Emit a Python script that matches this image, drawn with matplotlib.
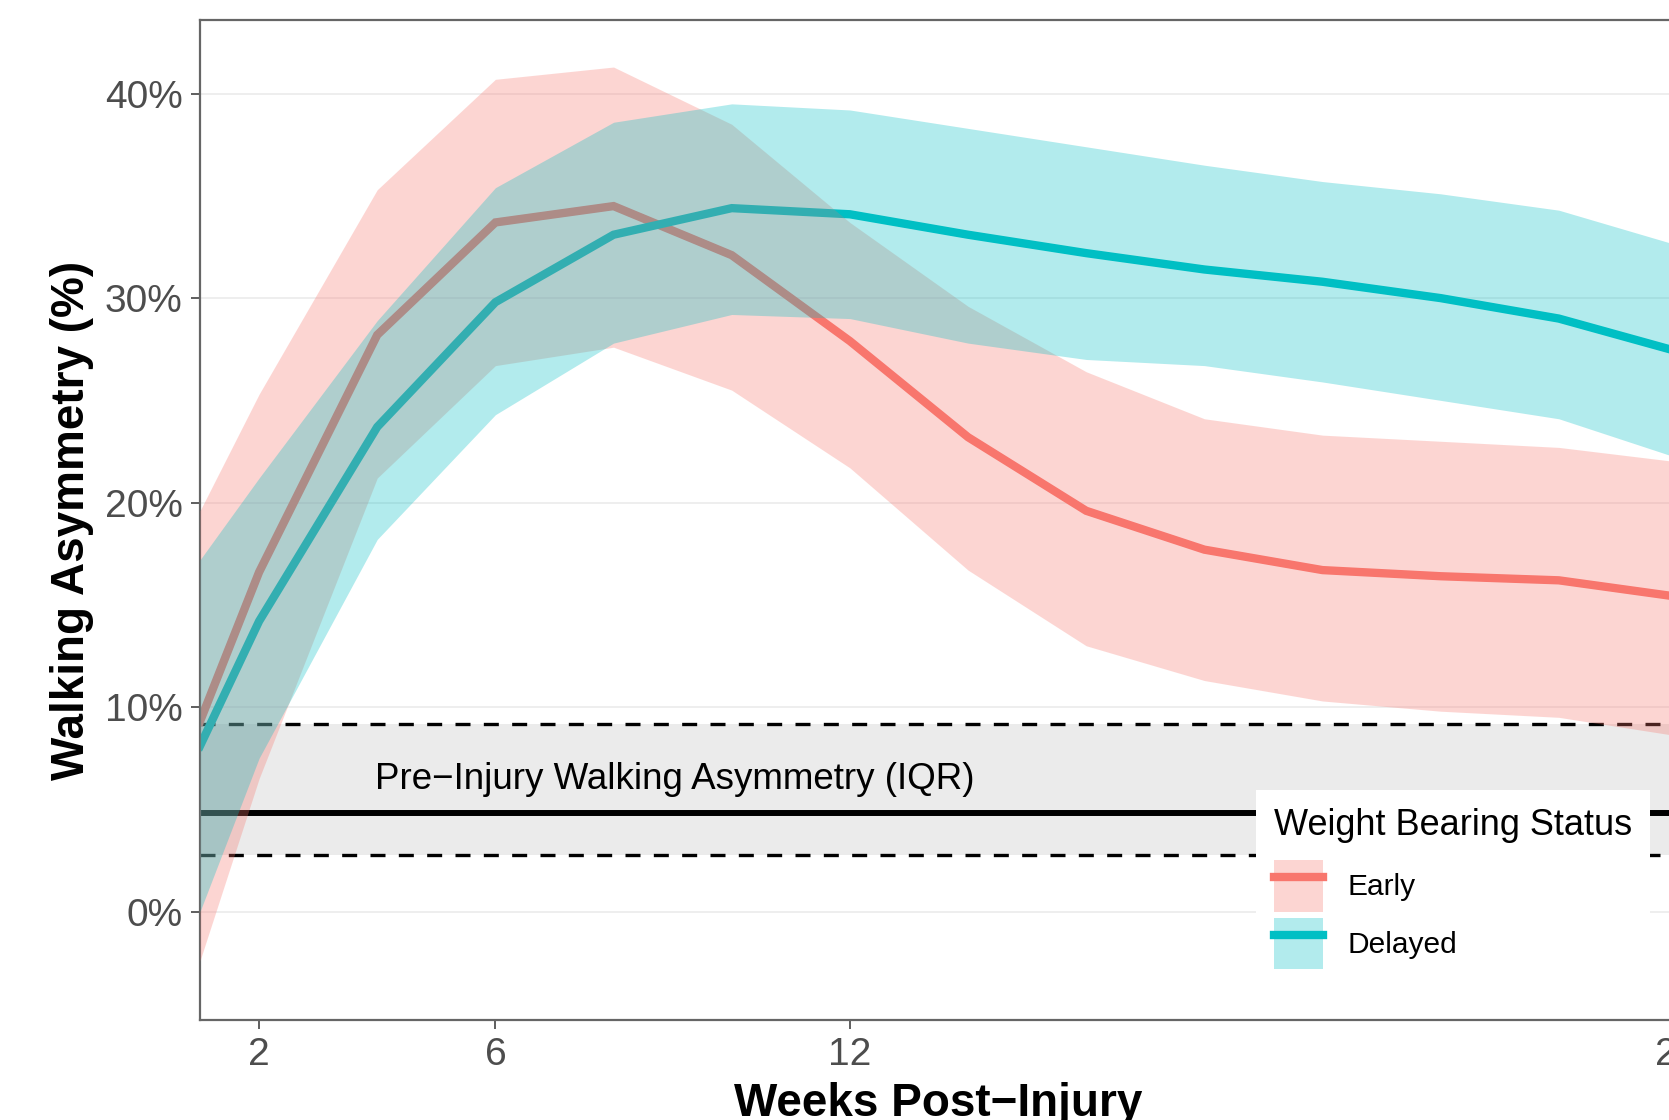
"""
Walking asymmetry after injury, early vs delayed weight bearing.
Mean curve per group with its band, plus the pre-injury IQR as a grey strip.
"""

import matplotlib
matplotlib.use("Agg")
import matplotlib.pyplot as plt
from matplotlib.lines import Line2D
from matplotlib.patches import Patch

plt.rcParams.update({
    "font.family": ["Liberation Sans", "DejaVu Sans"],
    "axes.unicode_minus": True,
})

# weeks post-injury
weeks = [1, 2, 4, 6, 8, 10, 12, 14, 16, 18, 20, 22, 24, 26]

# Early weight bearing (%)
early_mean = [9.3, 16.6, 28.2, 33.7, 34.5, 32.1, 27.9, 23.2, 19.6, 17.7, 16.7, 16.4, 16.2, 15.4]
early_hi = [19.6, 25.3, 35.3, 40.7, 41.3, 38.5, 33.7, 29.6, 26.4, 24.1, 23.3, 23.0, 22.7, 22.0]
early_lo = [-2.4, 6.5, 21.2, 26.7, 27.6, 25.5, 21.7, 16.7, 13.0, 11.3, 10.3, 9.8, 9.5, 8.6]

# Delayed weight bearing (%)
delayed_mean = [8.1, 14.2, 23.7, 29.8, 33.1, 34.4, 34.1, 33.1, 32.2, 31.4, 30.8, 30.0, 29.0, 27.4]
delayed_hi = [17.2, 21.2, 28.9, 35.4, 38.6, 39.5, 39.2, 38.3, 37.4, 36.5, 35.7, 35.1, 34.3, 32.6]
delayed_lo = [0.0, 7.5, 18.2, 24.3, 27.8, 29.2, 29.0, 27.8, 27.0, 26.7, 25.9, 25.0, 24.1, 22.2]

# pre-injury walking asymmetry: q1, median, q3 (%)
pre_q1, pre_median, pre_q3 = 2.75, 4.8, 9.15

x_ticks = [2, 6, 12, 26]
y_ticks = [0, 10, 20, 30, 40]

RED = "#F8766D"
TEAL = "#00BFC4"

fig = plt.figure(figsize=(16.69, 11.2), dpi=100)
# axes runs slightly past the right edge, as in the cropped original
ax = fig.add_axes([200 / 1669, 100 / 1120, 1477 / 1669, 1000 / 1120])

ax.set_xlim(1, 26)
ax.set_ylim(-5.3, 43.6)

# pre-injury IQR strip
ax.axhspan(pre_q1, pre_q3, color="#EBEBEB", lw=0, zorder=1)
for v in (pre_q1, pre_q3):
    ax.axhline(v, color="black", lw=2.4, dashes=(4.5, 4.0), zorder=1.5)
ax.axhline(pre_median, color="black", lw=4.3, zorder=1.5)
ax.text(9.04, 6.0, "Pre\u2212Injury Walking Asymmetry (IQR)", ha="center",
        va="baseline", fontsize=26.5, color="black", zorder=4)

# lines first, bands on top (so each line is tinted by the other band)
ax.plot(weeks, early_mean, color=RED, lw=6, solid_joinstyle="miter", zorder=2)
ax.plot(weeks, delayed_mean, color=TEAL, lw=6, solid_joinstyle="miter", zorder=2)
ax.fill_between(weeks, early_lo, early_hi, color=RED, alpha=0.3, lw=0, zorder=3)
ax.fill_between(weeks, delayed_lo, delayed_hi, color=TEAL, alpha=0.3, lw=0, zorder=3)

ax.set_xticks(x_ticks)
ax.set_xticklabels([str(t) for t in x_ticks])
ax.set_yticks(y_ticks)
ax.set_yticklabels([f"{t}%" for t in y_ticks])
ax.tick_params(axis="both", labelsize=28, labelcolor="#4D4D4D", color="#333333",
               length=6.5, width=1.1, pad=6)
ax.yaxis.grid(True, color="#EBEBEB", lw=1.2)
ax.xaxis.grid(False)
ax.set_axisbelow(True)

for side in ("left", "top", "bottom", "right"):
    ax.spines[side].set_color("#666666")
    ax.spines[side].set_linewidth(1.6)

ax.set_xlabel("Weeks Post\u2212Injury", fontsize=33, fontweight="bold", labelpad=6)
ax.set_ylabel("Walking Asymmetry (%)", fontsize=33, fontweight="bold", labelpad=8)

handles = [
    (Patch(facecolor=RED, alpha=0.3, edgecolor="none"), Line2D([], [], color=RED, lw=6)),
    (Patch(facecolor=TEAL, alpha=0.3, edgecolor="none"), Line2D([], [], color=TEAL, lw=6)),
]
leg = fig.legend(handles, ["Early", "Delayed"], title="Weight Bearing Status",
                 loc="upper left", bbox_to_anchor=(1256 / 1669, 1 - 790 / 1120),
                 frameon=True, facecolor="white", edgecolor="none", framealpha=1,
                 fancybox=False, borderaxespad=0, borderpad=0.6, alignment="left",
                 fontsize=21.5, title_fontsize=26, handlelength=1.65, handleheight=2.3,
                 handletextpad=0.8, labelspacing=0.2)
leg._legend_box.sep = 12  # gap between title and keys

fig.savefig("out.png", dpi=100)
